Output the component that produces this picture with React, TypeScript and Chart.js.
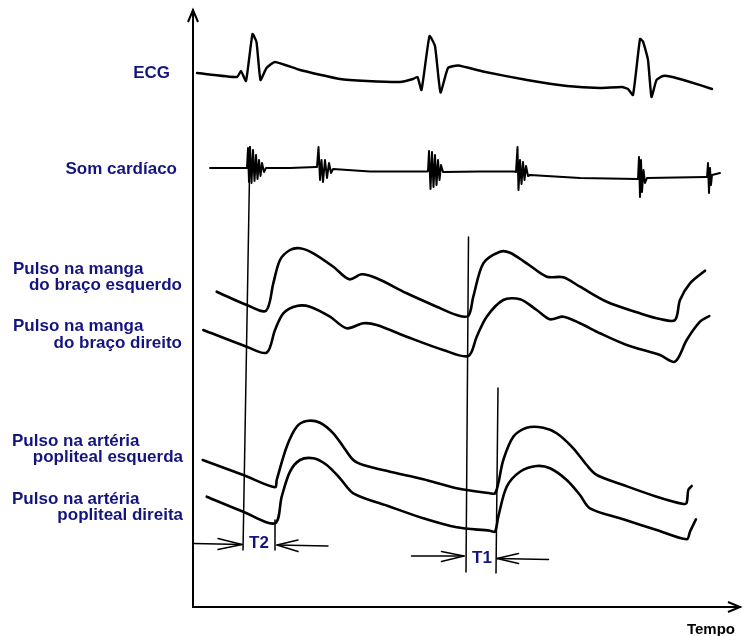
import React, { useEffect, useRef } from "react";
import { Chart, registerables } from "chart.js";

Chart.register(...registerables);

type P = [number, number];

// Time axis (arbitrary units) and amplitude (arbitrary units)
const ecg: P[] = [
  [4, 534], [44, 530], [48, 536], [53, 526], [59.5, 573], [63.5, 565], [67.5, 527], [73.5, 539],
  [82, 545], [107, 537], [147, 528], [174, 526], [207, 525], [220, 528], [224.5, 530], [228.5, 517],
  [236.5, 571], [242, 561], [247.5, 514.5], [255, 539], [265, 541.5], [290, 535.5], [334, 527],
  [374, 521], [407, 519], [429, 520], [435, 518], [440, 512], [447, 568], [450, 565.5], [455, 547],
  [458.5, 510], [463.5, 527], [470, 531], [477, 530.5], [497, 525], [519, 518],
];

const heartSound: P[] = [
  [17, 439], [47, 439], [54, 439], [55, 459], [56, 425], [57, 460], [58.5, 424], [60, 457], [61.5, 426],
  [63, 452], [64.5, 428], [66, 447], [67.5, 431], [69, 444], [71, 435], [73, 439], [97, 439], [123, 440],
  [124, 440], [125.5, 460], [127, 427], [128.5, 447], [130, 425], [132, 447], [134, 429], [136, 444],
  [138, 434], [140, 438], [177, 435.5], [234, 435.5], [235, 436], [236, 456], [237.5, 418], [239, 455],
  [240.5, 420], [242, 452], [243.5, 422], [245, 447], [246.5, 427], [248, 442], [250, 435], [287, 435.5],
  [321, 435.5], [323, 435], [324.5, 460], [325.5, 417], [327, 447], [328.5, 423], [330, 445], [331.5, 427],
  [333, 441], [335, 431], [337, 432], [387, 429], [444, 428], [445, 428], [446, 450], [447, 410],
  [448, 447], [449, 415], [450.5, 437], [452, 424], [454, 429], [513, 430], [514, 430], [515, 444],
  [516, 414], [517, 439], [518, 422], [519, 432], [527, 434],
];

const cuffLeft: P[] = [
  [23.7, 315.3], [53.7, 302], [73, 296.3], [80.3, 323.7], [87, 347], [97, 357], [107, 358.7],
  [120.3, 353.7], [140.3, 340.3], [156.3, 327.7], [168.7, 332.7], [183.7, 328.7], [213.7, 313.7],
  [243.7, 300.3], [263.7, 292], [275.3, 291], [280.3, 310.3], [290.3, 343.7], [307, 355.3],
  [317, 354.3], [333.7, 343.7], [353.7, 330.3], [370.3, 329.7], [387, 320.3], [413.7, 305.3],
  [447, 293.7], [467, 288], [482, 287], [487, 307], [497, 323.7], [512, 336.3],
];

const cuffRight: P[] = [
  [10.3, 277], [53.7, 260.3], [73.7, 254.3], [82, 277], [90.3, 293.7], [103.7, 301], [117, 300.3],
  [137, 290.3], [153.7, 278.7], [170.3, 283.7], [183.7, 282], [213.7, 270.3], [250.3, 257],
  [275.3, 251], [283.7, 270.3], [293.7, 290.3], [310.3, 307], [327, 307.7], [343.7, 297], [357, 287.7],
  [370.3, 290.3], [387, 283.7], [407, 273.7], [433.7, 262], [467, 252], [482, 245.3], [493.7, 267],
  [507, 285.3], [516.3, 291],
];

const poplitealLeft: P[] = [
  [9.7, 147], [50.3, 132], [82, 119.7], [83.7, 127], [93.7, 160.3], [103.7, 180.3], [113.7, 186],
  [127, 184.3], [140.3, 173.7], [150.3, 160.3], [160.3, 147], [170.3, 142], [197, 135.3],
  [230.3, 127.7], [263.7, 118.7], [297, 113.7], [302, 113.7], [305.3, 123.7], [310.3, 147],
  [320.3, 170.3], [333.7, 179.3], [350.3, 179.3], [363.7, 173.7], [380.3, 158.7], [393.7, 142],
  [403.7, 132], [430.3, 122], [463.7, 110.3], [490.3, 103], [493.7, 104.3], [495.3, 117], [498.7, 121],
];

const poplitealRight: P[] = [
  [13.7, 110.3], [50.3, 95.3], [82, 83.7], [88.7, 110.3], [97, 135.3], [107, 147], [120.3, 148.7],
  [133.7, 142], [147, 128.7], [160.3, 113.7], [197, 100.3], [230.3, 88.7], [263.7, 79.7], [297, 76.3],
  [302, 75.3], [305.3, 90.3], [313.7, 120.3], [327, 135.3], [343.7, 141], [357, 138.7], [373.7, 127],
  [387, 112], [397, 98.7], [430.3, 87.7], [463.7, 77], [493.7, 67.7], [497, 75.3], [503, 87.7],
];

// Marker lines (start/end) and interval arrows
const markerT2a: P[] = [[57, 460], [50, 57]];
const markerT2b: P[] = [[82, 87], [82, 57]];
const markerT1a: P[] = [[275.5, 370], [273, 35]];
const markerT1b: P[] = [[305, 219], [303, 34]];

const arrowT2Left: P[] = [[0.3, 63.5], [49, 62.5]];
const arrowT2LeftHead: P[] = [[25, 68.5], [49, 62.5], [25, 57.5]];
const arrowT2Right: P[] = [[135, 61], [84, 62]];
const arrowT2RightHead: P[] = [[105, 67], [84, 62], [105, 55.5]];
const arrowT1Left: P[] = [[218.5, 51], [271, 51]];
const arrowT1LeftHead: P[] = [[248.5, 55.5], [271, 51], [248.5, 45.5]];
const arrowT1Right: P[] = [[355.5, 47.5], [304, 48.5]];
const arrowT1RightHead: P[] = [[325.5, 53.5], [304, 48.5], [325.5, 43.5]];

const intervalLabels: { text: string; at: P }[] = [
  { text: "T2", at: [66, 64] },
  { text: "T1", at: [289, 49] },
];

const traceLabels: string[][] = [
  ["ECG"],
  ["Som cardíaco"],
  ["Pulso na manga", "do braço esquerdo"],
  ["Pulso na manga", "do braço direito"],
  ["Pulso na artéria", "popliteal esquerda"],
  ["Pulso na artéria", "popliteal direita"],
];
const axisTitle = "Tempo";

const X_MAX = 547;
const Y_MAX = 597;
const NAVY = "#14147f";
const FONT = '"Liberation Sans", Arial, Helvetica, sans-serif';

const toXY = (arr: P[]) => arr.map(([x, y]) => ({ x, y }));

const labelLayout: { lines: { x: number; y: number; align: CanvasTextAlign }[] }[] = [
  { lines: [{ x: 170, y: 78, align: "right" }] },
  { lines: [{ x: 177, y: 174, align: "right" }] },
  { lines: [{ x: 13, y: 273.5, align: "left" }, { x: 182, y: 290, align: "right" }] },
  { lines: [{ x: 13, y: 331, align: "left" }, { x: 182, y: 347.5, align: "right" }] },
  { lines: [{ x: 12, y: 445.5, align: "left" }, { x: 183, y: 462, align: "right" }] },
  { lines: [{ x: 12, y: 503.5, align: "left" }, { x: 183, y: 519.5, align: "right" }] },
];

const annotatePlugin = {
  id: "annotate",
  afterDraw(chart: any) {
    const ctx: CanvasRenderingContext2D = chart.ctx;
    const { left, top, right, bottom } = chart.chartArea;
    const xs = chart.scales.x;
    const ys = chart.scales.y;
    ctx.save();
    // axis arrowheads
    ctx.strokeStyle = "#000";
    ctx.lineWidth = 2;
    ctx.lineJoin = "miter";
    ctx.beginPath();
    ctx.moveTo(left - 5, top + 12);
    ctx.lineTo(left, top);
    ctx.lineTo(left + 5, top + 12);
    ctx.stroke();
    ctx.beginPath();
    ctx.moveTo(right - 12, bottom - 5);
    ctx.lineTo(right, bottom);
    ctx.lineTo(right - 12, bottom + 5);
    ctx.stroke();

    // trace labels
    ctx.fillStyle = NAVY;
    ctx.font = `bold 17px ${FONT}`;
    ctx.textBaseline = "alphabetic";
    traceLabels.forEach((lines, i) => {
      lines.forEach((t, j) => {
        const l = labelLayout[i].lines[j];
        ctx.textAlign = l.align;
        ctx.fillText(t, l.x, l.y);
      });
    });

    // interval labels
    ctx.textAlign = "center";
    ctx.textBaseline = "middle";
    intervalLabels.forEach((lab) => {
      ctx.fillText(lab.text, xs.getPixelForValue(lab.at[0]), ys.getPixelForValue(lab.at[1]));
    });

    // axis title
    ctx.fillStyle = "#000";
    ctx.font = `bold 15px ${FONT}`;
    ctx.textAlign = "center";
    ctx.textBaseline = "alphabetic";
    ctx.fillText(axisTitle, 711, 634);
    ctx.restore();
  },
};

export default function App() {
  const ref = useRef<HTMLCanvasElement | null>(null);

  useEffect(() => {
    if (!ref.current) return;
    const line = (data: P[], width: number, tension: number) => ({
      data: toXY(data),
      showLine: true,
      borderColor: "#000",
      backgroundColor: "#000",
      borderWidth: width,
      pointRadius: 0,
      tension,
      fill: false,
      clip: false as any,
      borderJoinStyle: "round" as const,
      borderCapStyle: "round" as const,
    });
    const chart = new Chart(ref.current, {
      type: "scatter",
      data: {
        datasets: [
          line(ecg, 2.4, 0.15),
          line(heartSound, 2, 0),
          line(cuffLeft, 2.6, 0.3),
          line(cuffRight, 2.6, 0.3),
          line(poplitealLeft, 2.6, 0.3),
          line(poplitealRight, 2.6, 0.3),
          line(markerT2a, 1.5, 0),
          line(markerT2b, 1.5, 0),
          line(markerT1a, 1.5, 0),
          line(markerT1b, 1.5, 0),
          line(arrowT2Left, 1.5, 0),
          line(arrowT2LeftHead, 1.5, 0),
          line(arrowT2Right, 1.5, 0),
          line(arrowT2RightHead, 1.5, 0),
          line(arrowT1Left, 1.5, 0),
          line(arrowT1LeftHead, 1.5, 0),
          line(arrowT1Right, 1.5, 0),
          line(arrowT1RightHead, 1.5, 0),
        ] as any,
      },
      options: {
        responsive: false,
        devicePixelRatio: 1,
        animation: false,
        events: [],
        layout: { padding: { left: 193, right: 6, top: 10, bottom: 29 } },
        plugins: { legend: { display: false }, tooltip: { enabled: false } },
        scales: {
          x: {
            type: "linear",
            min: 0,
            max: X_MAX,
            grid: { display: false, drawTicks: false },
            ticks: { display: false },
            border: { display: true, color: "#000", width: 2 },
          },
          y: {
            type: "linear",
            min: 0,
            max: Y_MAX,
            grid: { display: false, drawTicks: false },
            ticks: { display: false },
            border: { display: true, color: "#000", width: 2 },
          },
        },
      },
      plugins: [annotatePlugin],
    });
    return () => chart.destroy();
  }, []);

  return (
    <div style={{ position: "absolute", left: 0, top: 0, width: 746, height: 636, background: "#fff" }}>
      <canvas ref={ref} width={746} height={636} style={{ display: "block" }} />
    </div>
  );
}
